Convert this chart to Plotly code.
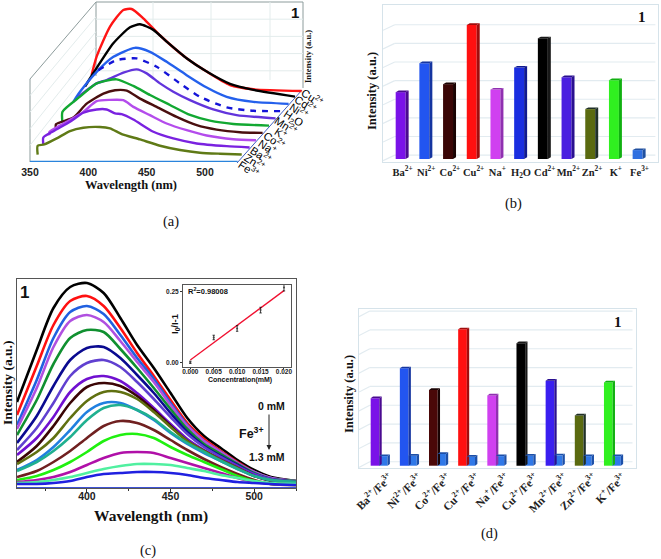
import plotly.graph_objects as go

W, H = 661, 559
SANS = "Liberation Sans"
SERIF = "Liberation Serif"

# ---------- panel (a) data: waterfall spectra ----------
a_names = ["Fe<sup>3+</sup>", "Zn<sup>2+</sup>", "Ba<sup>2+</sup>", "Na<sup>+</sup>", "Co<sup>2+</sup>", "K<sup>+</sup>",
           "Mn<sup>2+</sup>", "H<sub>2</sub>O", "Ni<sup>2+</sup>", "Cd<sup>2+</sup>", "Cu<sup>2+</sup>"]
a_colors = ["#2a84dc", "#5f7a16", "#7a22e0", "#b44cec", "#4a0f0f", "#12a832",
            "#6234dc", "#1414d8", "#2460ec", "#000000", "#ff1414"]
fe_wl = [350, 528]
fe_h = [0, 0]
zn_wl = [351, 351, 356.7, 367.3, 378.7, 390.1, 404.4, 413, 423, 438.7, 455.9, 473, 490.1, 507.3, 525.9]
zn_h = [0, 9, 10.3, 16.3, 23.7, 27, 27.7, 26.3, 20.7, 15.3, 9, 4.7, 2, 1, 0.3]
ba_wl = [350.3, 350.3, 358.9, 373.1, 384.6, 396, 404.6, 411.7, 417.4, 427.4, 444.6, 461.7, 481.7, 507.4, 527.1]
ba_h = [3, 10, 16.3, 25.7, 34.7, 38, 38, 34, 33.3, 28, 15.7, 9, 4, 1.3, 0]
na_wl = [350, 350, 364.7, 379, 390.4, 401.9, 413.3, 421.9, 436.1, 450.4, 467.6, 484.7, 507.6, 527]
na_h = [5, 8.3, 18.3, 28.3, 39, 40.3, 40, 33.3, 25, 16.7, 10, 4.7, 1, 0]
co_wl = [350, 350, 364.9, 376.3, 390.6, 400.6, 410.6, 422, 436.3, 453.4, 470.6, 487.7, 507.7, 527.1]
co_h = [3.7, 8.7, 15.3, 29.3, 39.3, 42.7, 42.3, 34.3, 26, 16, 7.7, 3.3, 0.7, 0]
k_wl = [350, 350, 365, 379.3, 396.4, 410.7, 425, 442.1, 459.3, 476.4, 496.4, 527]
k_h = [3, 14, 29, 42.3, 46.3, 39.7, 30.7, 20.7, 10.7, 5, 1.7, 0]
mn_wl = [358, 373.7, 382.3, 396.6, 408, 416.6, 428, 439.4, 453.7, 473.7, 493.7, 527.1]
mn_h = [21.7, 35, 38.3, 45.7, 49, 45, 35, 26.7, 18.3, 9, 3.3, 0]
h2o_wl = [369.6, 385.3, 402.4, 419.6, 439.6, 456.7, 479.6, 502.4, 527]
h2o_h = [41, 51, 52.7, 44.3, 27.7, 14.3, 3.7, 0.3, 0]
ni_wl = [342.6, 348.3, 362.6, 376.9, 395.4, 408.3, 422.6, 439.7, 456.9, 474, 496.9, 527.1]
ni_h = [2, 12, 32, 47, 56, 52, 42, 28.7, 16.3, 7, 2, 0]
cd_wl = [347, 354.1, 371.3, 385.6, 394.1, 405.6, 417, 434.1, 451.3, 471.3, 491.3, 527]
cd_h = [10, 23.3, 53.3, 69.3, 72.3, 66.7, 55, 38.3, 25, 12.7, 6.7, 0]
cu_wl = [347.1, 351.4, 362.9, 374.3, 381.4, 391.4, 406.3, 428.6, 445.7, 465.7, 485.7, 527.1]
cu_h = [14.3, 32.7, 62.7, 79.3, 80.3, 71, 53.3, 31, 17.7, 4.3, 0, -1.7]
a_wl = [fe_wl, zn_wl, ba_wl, na_wl, co_wl, k_wl, mn_wl, h2o_wl, ni_wl, cd_wl, cu_wl]
a_h = [fe_h, zn_h, ba_h, na_h, co_h, k_h, mn_h, h2o_h, ni_h, cd_h, cu_h]
a_depth_wl = 5.57
a_depth_h = 7.27

# ---------- panel (b) data ----------
b_labels = ["Ba<sup>2+</sup>", "Ni<sup>2+</sup>", "Co<sup>2+</sup>", "Cu<sup>2+</sup>", "Na<sup>+</sup>", "H<sub>2</sub>O",
            "Cd<sup>2+</sup>", "Mn<sup>2+</sup>", "Zn<sup>2+</sup>", "K<sup>+</sup>", "Fe<sup>3+</sup>"]
b_values = [3.59, 5.14, 4.02, 7.20, 3.73, 4.91, 6.48, 4.39, 2.68, 4.23, 0.48]
b_front = ["#7a12e8", "#2255f0", "#3a0606", "#ff1010", "#d040f0", "#1a2ee0", "#000000", "#4a1fe0", "#5a6a10", "#30f020", "#2f6fe0"]
b_side = ["#4a0a90", "#1535a0", "#1a0303", "#a00d0d", "#9030b0", "#101a90", "#181818", "#2a1090", "#203028", "#10b010", "#2050a0"]

# ---------- panel (c) data ----------
c_wl = [358.2, 370, 380, 390, 400, 410, 420, 430, 440, 450, 460, 470, 480, 490, 500, 510, 525]
c_curves = [
    [86, 138, 180, 201, 205, 195, 170, 143, 120, 95, 70, 52, 40, 28, 18, 11, 7],
    [73, 122, 163, 187, 192, 182, 160, 135, 112, 88, 65, 49, 37, 26, 16, 10, 7],
    [63, 108, 150, 176, 182, 174, 153, 130, 109, 85, 63, 47, 36, 25, 16, 10, 7],
    [59, 100, 141, 167, 173, 166, 147, 126, 106, 83, 62, 47, 36, 25, 16, 10, 7],
    [53, 88, 124, 150, 158, 156, 139, 120, 100, 79, 59, 44, 34, 24, 15, 9, 7],
    [45, 72, 102, 128, 140, 141, 130, 113, 95, 75, 56, 42, 32, 23, 14, 9, 6],
    [38, 60, 85, 112, 125, 128, 121, 106, 89, 71, 54, 41, 31, 22, 14, 9, 6],
    [33, 50, 71, 96, 109, 112, 107, 95, 80, 64, 49, 38, 29, 21, 13, 8, 6],
    [26, 42, 62, 85, 101, 105, 102, 92, 78, 62, 47, 37, 28, 20, 12, 7, 5],
    [24, 36, 50, 70, 87, 96, 96, 89, 76, 61, 47, 37, 28, 20, 12, 8, 6],
    [18, 28, 41, 58, 76, 85, 85, 78, 68, 55, 44, 35, 27, 19, 12, 8, 6],
    [17, 26, 37, 51, 68, 80, 83, 78, 69, 56, 45, 36, 27, 19, 12, 8, 6],
    [11, 17, 26, 37, 50, 62, 67, 65, 58, 48, 38, 29, 21, 14, 8, 4, 3],
    [8, 12, 18, 26, 36, 47, 53, 54, 50, 41, 33, 26, 19, 12, 7, 4, 3],
    [6, 8, 11, 16, 23, 30, 35, 36, 35, 30, 25, 20, 15, 10, 6, 4, 3],
    [5, 6, 8, 11, 15, 19, 22, 24, 24, 23, 20, 17, 13, 10, 7, 5, 4],
    [4, 4, 5, 7, 11, 14, 15, 16, 16, 15, 13, 10, 8, 6, 5, 4, 3],
]
c_colors = ["#000000", "#ff1010", "#2060e0", "#b050e0", "#109030", "#0a0a90", "#6040d0", "#7010d0", "#3a0505",
            "#607010", "#2080e0", "#20b090", "#702020", "#20f010", "#b010a8", "#50f0a0", "#2020e0"]
c_floor_x = [358.2, 525]
c_floor_y = [0.4, 0.4]
inset_x = [0.0, 0.005, 0.010, 0.015, 0.020]
inset_y = [0.0, 0.088, 0.120, 0.185, 0.265]
inset_err = [0.004, 0.008, 0.010, 0.010, 0.012]
fit_x = [0.0, 0.020]
fit_y = [0.008, 0.254]

# ---------- panel (d) data ----------
d_labels = ["Ba<sup>2+</sup>/Fe<sup>3+</sup>", "Ni<sup>2+</sup>/Fe<sup>3+</sup>", "Co<sup>2+</sup>/Fe<sup>3+</sup>",
            "Cu<sup>2+</sup>/Fe<sup>3+</sup>", "Na<sup>+</sup>/Fe<sup>3+</sup>", "Cu<sup>2+</sup>/Fe<sup>3+</sup>",
            "Mn<sup>2+</sup>/Fe<sup>3+</sup>", "Zn<sup>2+</sup>/Fe<sup>3+</sup>", "K<sup>+</sup>/Fe<sup>3+</sup>"]
d_before = [3.58, 5.17, 4.02, 7.24, 3.73, 6.50, 4.51, 2.67, 4.42]
d_after = [0.51, 0.53, 0.62, 0.48, 0.51, 0.53, 0.55, 0.51, 0.51]
d_front = ["#7a12e8", "#2255f0", "#4a0808", "#ff1010", "#d040f0", "#000000", "#3a1ff0", "#5a6a10", "#30f020"]
d_side = ["#4a0a90", "#1535a0", "#1a0303", "#a00d0d", "#9030b0", "#181818", "#2a1090", "#203028", "#10b010"]
d_small_front = "#2f78e8"
d_small_side = "#1c4fa8"


def xdom(a, b):
    return [a / W, b / W]


def ydom(top, bottom):
    return [1 - bottom / H, 1 - top / H]


fig = go.Figure()
shapes, notes = [], []


def pline(x0, y0, x1, y1, color="#8d9c9c", width=1):
    shapes.append(dict(type="line", xref="paper", yref="paper", x0=x0 / W, x1=x1 / W,
                       y0=1 - y0 / H, y1=1 - y1 / H, line=dict(color=color, width=width), layer="below"))


def note(x, y, text, size, family=SANS, bold=True, angle=0, color="#111111", xanchor="center"):
    notes.append(dict(xref="paper", yref="paper", x=x / W, y=1 - y / H, text=text, showarrow=False,
                      textangle=angle, xanchor=xanchor, yanchor="middle",
                      font=dict(family=family, size=size, color=color, weight=700 if bold else 400)))


# ---------- (a) ----------
for seg in [(30, 79, 96, 2), (30, 79, 30, 162), (96, 2, 303, 2), (303, 2, 303, 88), (96, 2, 96, 76)]:
    pline(*seg)
for frac in [0.2, 0.4, 0.6, 0.8]:
    yy = 2 + frac * 86
    pline(96, yy, 303, yy, "#e3ecec")
    pline(30, 79 + frac * 83, 96, 2 + frac * 74, "#e3ecec")
for xx in [153, 211, 270]:
    pline(xx, 2, xx, 80, "#e3ecec")
pline(237, 163, 302, 90, "#3f5fc0", 1)

for k in range(len(a_names) - 1, -1, -1):
    fig.add_trace(go.Scatter(
        x=[w + k * a_depth_wl for w in a_wl[k]], y=[h + k * a_depth_h for h in a_h[k]],
        mode="lines", name=a_names[k], cliponaxis=False,
        line=dict(color=a_colors[k], width=2.4, shape="spline", smoothing=0.6,
                  dash="6px,6px" if k == 7 else "solid"),
        xaxis="x", yaxis="y", showlegend=False, hoverinfo="skip"))
for k, name in enumerate(a_names):
    note(249 + 6.3 * k, 169 - 7.2 * k, name, 11, bold=False, angle=33, color="#000000")
note(308, 57, "Intensity (a.u.)", 8.5, SERIF, angle=-90)
note(295, 12, "1", 15)
note(131, 185, "Wavelength (nm)", 12.5, SERIF)
note(171, 221, "(a)", 14.5, SERIF, bold=False)


# ---------- bars helper ----------
def bars(xs, vals, front, side, width, dx, dy, xa, ya):
    fig.add_trace(go.Bar(x=xs, y=vals, width=width, marker=dict(color=front, line=dict(width=0)),
                         xaxis=xa, yaxis=ya, showlegend=False, hoverinfo="skip"))
    for x, v, c in zip(xs, vals, side):
        r = x + width / 2
        l = x - width / 2
        fig.add_trace(go.Scatter(x=[r, r + dx, r + dx, r, r], y=[0, dy, v + dy, v, 0], fill="toself",
                                 fillcolor=c, mode="none", xaxis=xa, yaxis=ya, showlegend=False, hoverinfo="skip"))
        fig.add_trace(go.Scatter(x=[l, r, r + dx, l + dx, l], y=[v, v, v + dy, v + dy, v], fill="toself",
                                 fillcolor=c, mode="none", xaxis=xa, yaxis=ya, showlegend=False, hoverinfo="skip"))


def wall_grid(levels, x_front, x_back, x_end, dy, xa, ya):
    for lv in levels:
        for x0, y0, x1, y1 in [(x_front, lv - dy, x_back, lv), (x_back, lv, x_end, lv)]:
            shapes.append(dict(type="line", xref=xa, yref=ya, x0=x0, y0=y0, x1=x1, y1=y1,
                               line=dict(color="#e2ebf0", width=1.2), layer="below"))


# ---------- (b) ----------
b_x = list(range(len(b_labels)))
wall_grid([0.21 + i for i in range(8)], -0.745, -0.25, 10.75, 0.3, "x2", "y2")
bars(b_x, b_values, b_front, b_side, 0.42, 0.127, 0.09, "x2", "y2")
note(372, 91, "Intensity (a.u.)", 12.5, SERIF, angle=-90)
note(642, 17, "1", 15, SERIF)
note(513, 203, "(b)", 14.5, SERIF, bold=False)

# ---------- (c) ----------
fig.add_trace(go.Scatter(x=c_floor_x, y=c_floor_y, mode="lines", line=dict(color="#2a40d0", width=1),
                         xaxis="x3", yaxis="y3", showlegend=False, hoverinfo="skip"))
for vals, col in zip(c_curves, c_colors):
    fig.add_trace(go.Scatter(x=c_wl, y=vals, mode="lines", line=dict(color=col, width=2.6, shape="spline", smoothing=0.8),
                             xaxis="x3", yaxis="y3", showlegend=False, hoverinfo="skip"))
note(7, 383, "Intensity (a.u.)", 13.5, SERIF, angle=-90)
note(151, 516, "Wavelength (nm)", 15.5, SERIF)
note(24, 292, "1", 17)
note(271, 406, "0 mM", 10.5)
note(251, 433, "Fe<sup>3+</sup>", 12.5)
note(267, 457, "1.3 mM", 10.5)
note(148, 550, "(c)", 14.5, SERIF, bold=False)
notes.append(dict(xref="paper", yref="paper", x=269 / W, y=1 - 450 / H, ax=0, ay=-37, text="", showarrow=True,
                  arrowhead=2, arrowsize=1, arrowwidth=1, arrowcolor="#222222"))

# inset
fig.add_trace(go.Scatter(x=fit_x, y=fit_y, mode="lines", line=dict(color="#f01030", width=1.3),
                         xaxis="x4", yaxis="y4", showlegend=False, hoverinfo="skip"))
fig.add_trace(go.Scatter(x=inset_x, y=inset_y, mode="markers", marker=dict(color="#444444", size=2),
                         error_y=dict(type="data", array=inset_err, color="#111111", thickness=0.8, width=1.2),
                         xaxis="x4", yaxis="y4", showlegend=False, hoverinfo="skip"))
note(186, 291, "R<sup>2</sup>=0.98008", 7.5, xanchor="left")
note(240, 380, "Concentration(mM)", 7)
note(175, 323, "I<sub>0</sub>/I-1", 9.5, angle=-90)

# ---------- (d) ----------
d_x = list(range(len(d_labels)))
wall_grid([0.21 + i for i in range(9)], -0.55, -0.18, 8.83, 0.3, "x5", "y5")
bars(d_x, d_before, d_front, d_side, 0.298, 0.08, 0.09, "x5", "y5")
bars([x + 0.286 for x in d_x], d_after, [d_small_front] * len(d_x), [d_small_side] * len(d_x), 0.286, 0.08, 0.09, "x5", "y5")
note(349, 394, "Intensity (a.u.)", 12.5, SERIF, angle=-90)
note(618, 322, "1", 15, SERIF)
note(489, 533, "(d)", 14.5, SERIF, bold=False)

FR = "#d6e3ea"
NOAM = dict(automargin=False)
layout_axes = dict(
    xaxis=dict(domain=xdom(30, 303), range=[350, 584], tickvals=[350, 400, 450, 500], ticks="", showgrid=False,
               zeroline=False, showline=False, ticklabelstandoff=2,
               tickfont=dict(family=SANS, size=10.5, color="#222", weight=700), **NOAM),
    yaxis=dict(domain=ydom(2, 162), range=[0, 160], visible=False, anchor="x", **NOAM),
    xaxis2=dict(domain=xdom(383, 658), range=[-0.745, 10.86], tickvals=[x + 0.08 for x in b_x], ticktext=b_labels,
                anchor="y2", ticks="", showgrid=False, zeroline=False, showline=True, mirror=True, linecolor=FR,
                tickfont=dict(family=SERIF, size=10.5, color="#222", weight=700), tickangle=0, **NOAM),
    yaxis2=dict(domain=ydom(5, 162), range=[-0.16, 8.27], anchor="x2", showticklabels=False, ticks="", showgrid=False,
                zeroline=False, showline=True, mirror=True, linecolor=FR, **NOAM),
    xaxis3=dict(domain=xdom(17, 296), range=[358.2, 525], anchor="y3", tickvals=[400, 450, 500], ticks="outside", ticklen=4,
                tickcolor="#333", minor=dict(tickvals=[375, 425, 475, 525], ticks="outside", ticklen=2, tickcolor="#333"),
                showgrid=False, zeroline=False, showline=True, mirror=True, linecolor="#555", linewidth=1,
                ticklabelstandoff=-6, tickfont=dict(family=SANS, size=10.5, color="#222", weight=700), **NOAM),
    yaxis3=dict(domain=ydom(279, 488), range=[0, 209], anchor="x3", showticklabels=False, ticks="", showgrid=False,
                zeroline=False, showline=True, mirror=True, linecolor="#555", linewidth=1, **NOAM),
    xaxis4=dict(domain=xdom(183, 291), range=[-0.00156, 0.0215], anchor="y4", tickvals=[0, 0.005, 0.01, 0.015, 0.02],
                ticktext=["0.000", "0.005", "0.010", "0.015", "0.020"], ticks="outside", ticklen=1, tickcolor="#333",
                showgrid=False, zeroline=False, showline=True, mirror=True, linecolor="#555", linewidth=1,
                ticklabelstandoff=-3, tickfont=dict(family=SANS, size=6.5, color="#222", weight=700), **NOAM),
    yaxis4=dict(domain=ydom(285, 367), range=[-0.0166, 0.274], anchor="x4", tickvals=[0, 0.25], ticktext=["0.00", "0.25"],
                ticks="outside", ticklen=2, tickcolor="#333", showgrid=False, zeroline=False, showline=True, mirror=True,
                linecolor="#555", linewidth=1, tickfont=dict(family=SANS, size=6.5, color="#222", weight=700), **NOAM),
    xaxis5=dict(domain=xdom(359, 636), range=[-0.55, 8.95], anchor="y5", tickvals=[x + 0.5 for x in d_x], ticktext=d_labels,
                ticks="", showgrid=False, zeroline=False, showline=True, mirror=True, linecolor=FR, tickangle=-45,
                ticklabelstandoff=-3, tickfont=dict(family=SERIF, size=11.5, color="#222", weight=700), **NOAM),
    yaxis5=dict(domain=ydom(309, 468), range=[-0.122, 8.32], anchor="x5", showticklabels=False, ticks="", showgrid=False,
                zeroline=False, showline=True, mirror=True, linecolor=FR, **NOAM),
)

fig.update_layout(width=W, height=H, margin=dict(l=0, r=0, t=0, b=0, pad=0, autoexpand=False), autosize=False,
                  paper_bgcolor="white", plot_bgcolor="rgba(0,0,0,0)", showlegend=False, barmode="overlay",
                  shapes=shapes, annotations=notes, **layout_axes)
fig.write_html("out.html", config={"displayModeBar": False},
               post_script="document.body.style.margin='0';document.body.style.overflow='hidden';")
